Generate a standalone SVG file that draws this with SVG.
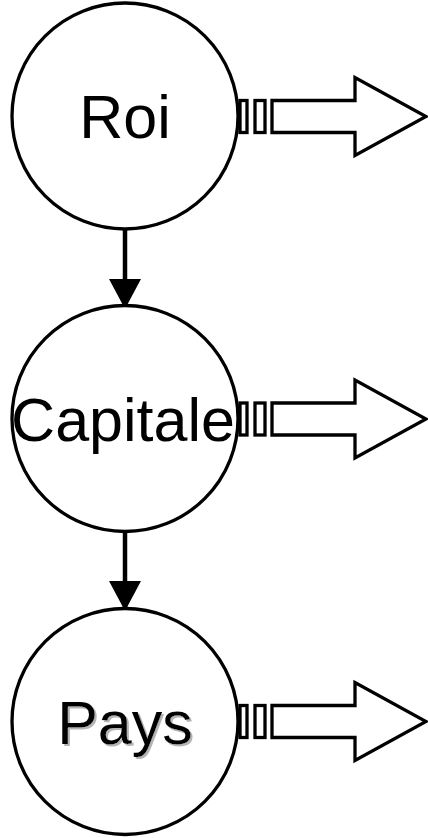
<svg xmlns="http://www.w3.org/2000/svg" width="428" height="838" viewBox="0 0 428 838">
<style>
.node{fill:#fff;stroke:#000;stroke-width:3.3}
.lbl{font-family:"Liberation Sans",Arial,sans-serif;font-size:61px;fill:#000;text-anchor:middle}
.blk{fill:#fff;stroke:#000;stroke-width:3.3;stroke-linejoin:miter}
.conn{stroke:#000;stroke-width:4.5;fill:none}
</style>
<defs>
<marker id="ah" markerUnits="userSpaceOnUse" markerWidth="34" markerHeight="32" refX="30" refY="16" orient="auto">
<path d="M0,0 L30,16 L0,32 Z" fill="#000"/>
</marker>
<filter id="shadow" x="-10%" y="-10%" width="125%" height="130%">
<feGaussianBlur in="SourceAlpha" stdDeviation="0.7" result="b"/>
<feOffset in="b" dx="2" dy="2" result="o"/>
<feFlood flood-color="#b4b4b4"/>
<feComposite in2="o" operator="in" result="s"/>
<feMerge><feMergeNode in="s"/><feMergeNode in="SourceGraphic"/></feMerge>
</filter>
<g id="blockarrow">
<rect class="blk" x="240" y="-16" width="7" height="32"/>
<rect class="blk" x="255" y="-16" width="10" height="32"/>
<path class="blk" d="M272,-16 L355,-16 L355,-39 L426,0 L355,39 L355,16 L272,16 Z"/>
</g>
</defs>
<g id="connectors">
<line class="conn" x1="125" y1="230" x2="125" y2="309" marker-end="url(#ah)"/>
<line class="conn" x1="125" y1="532" x2="125" y2="611" marker-end="url(#ah)"/>
</g>
<g id="roi">
<circle class="node" cx="125" cy="116" r="113"/>
<text class="lbl" x="125" y="138">Roi</text>
<use href="#blockarrow" y="116.5"/>
</g>
<g id="capitale">
<circle class="node" cx="125" cy="418.5" r="113"/>
<text class="lbl" x="123" y="441">Capitale</text>
<use href="#blockarrow" y="419"/>
</g>
<g id="pays">
<circle class="node" cx="125" cy="721.5" r="113"/>
<text class="lbl" x="125" y="744" filter="url(#shadow)">Pays</text>
<use href="#blockarrow" y="721.5"/>
</g>
</svg>
